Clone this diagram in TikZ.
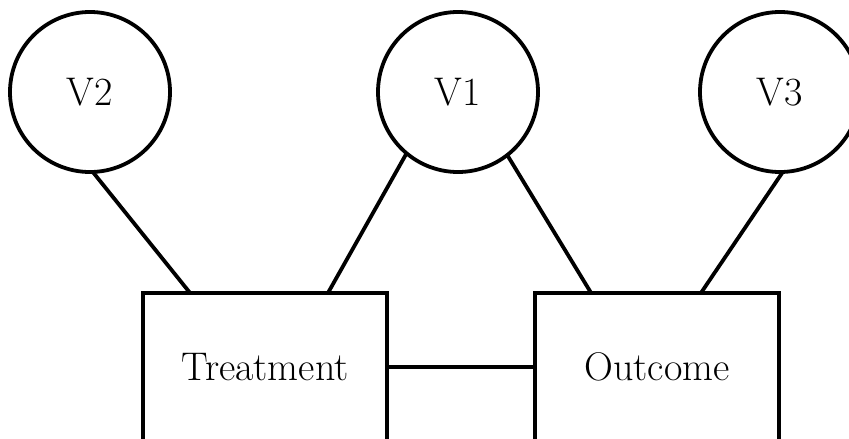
\documentclass[tikz,border=0pt]{standalone}
\usetikzlibrary{calc}
\begin{document}
\begin{tikzpicture}[x=1pt,y=-1pt,
  latent/.style={draw,circle,line width=3.8pt,minimum size=160pt,inner sep=0pt,outer sep=0pt,font=\fontsize{40}{42}\selectfont},
  obs/.style={draw,rectangle,line width=3.8pt,minimum width=244pt,minimum height=148pt,inner sep=0pt,outer sep=0pt,font=\fontsize{40}{42}\selectfont},
  edge/.style={line width=3.8pt}]
\useasboundingbox (0,0) rectangle (849,439);
\clip (0,0) rectangle (849,439);
\node[latent] (V2) at (90,92) {V2};
\node[latent] (V1) at (458,92) {V1};
\node[latent] (V3) at (780,92) {V3};
\node[obs] (T) at (265,367) {Treatment};
\node[obs] (O) at (657,367) {Outcome};
\draw[edge] (V2.-88) -- ($(T.north west)!0.193!(T.north east)$);
\draw[edge] (V1.-130) -- ($(T.north west)!0.758!(T.north east)$);
\draw[edge] (V1.-52) -- ($(O.north west)!0.23!(O.north east)$);
\draw[edge] (V3.-88) -- ($(O.north west)!0.68!(O.north east)$);
\draw[edge] (T.east) -- (O.west);
\end{tikzpicture}
\end{document}
